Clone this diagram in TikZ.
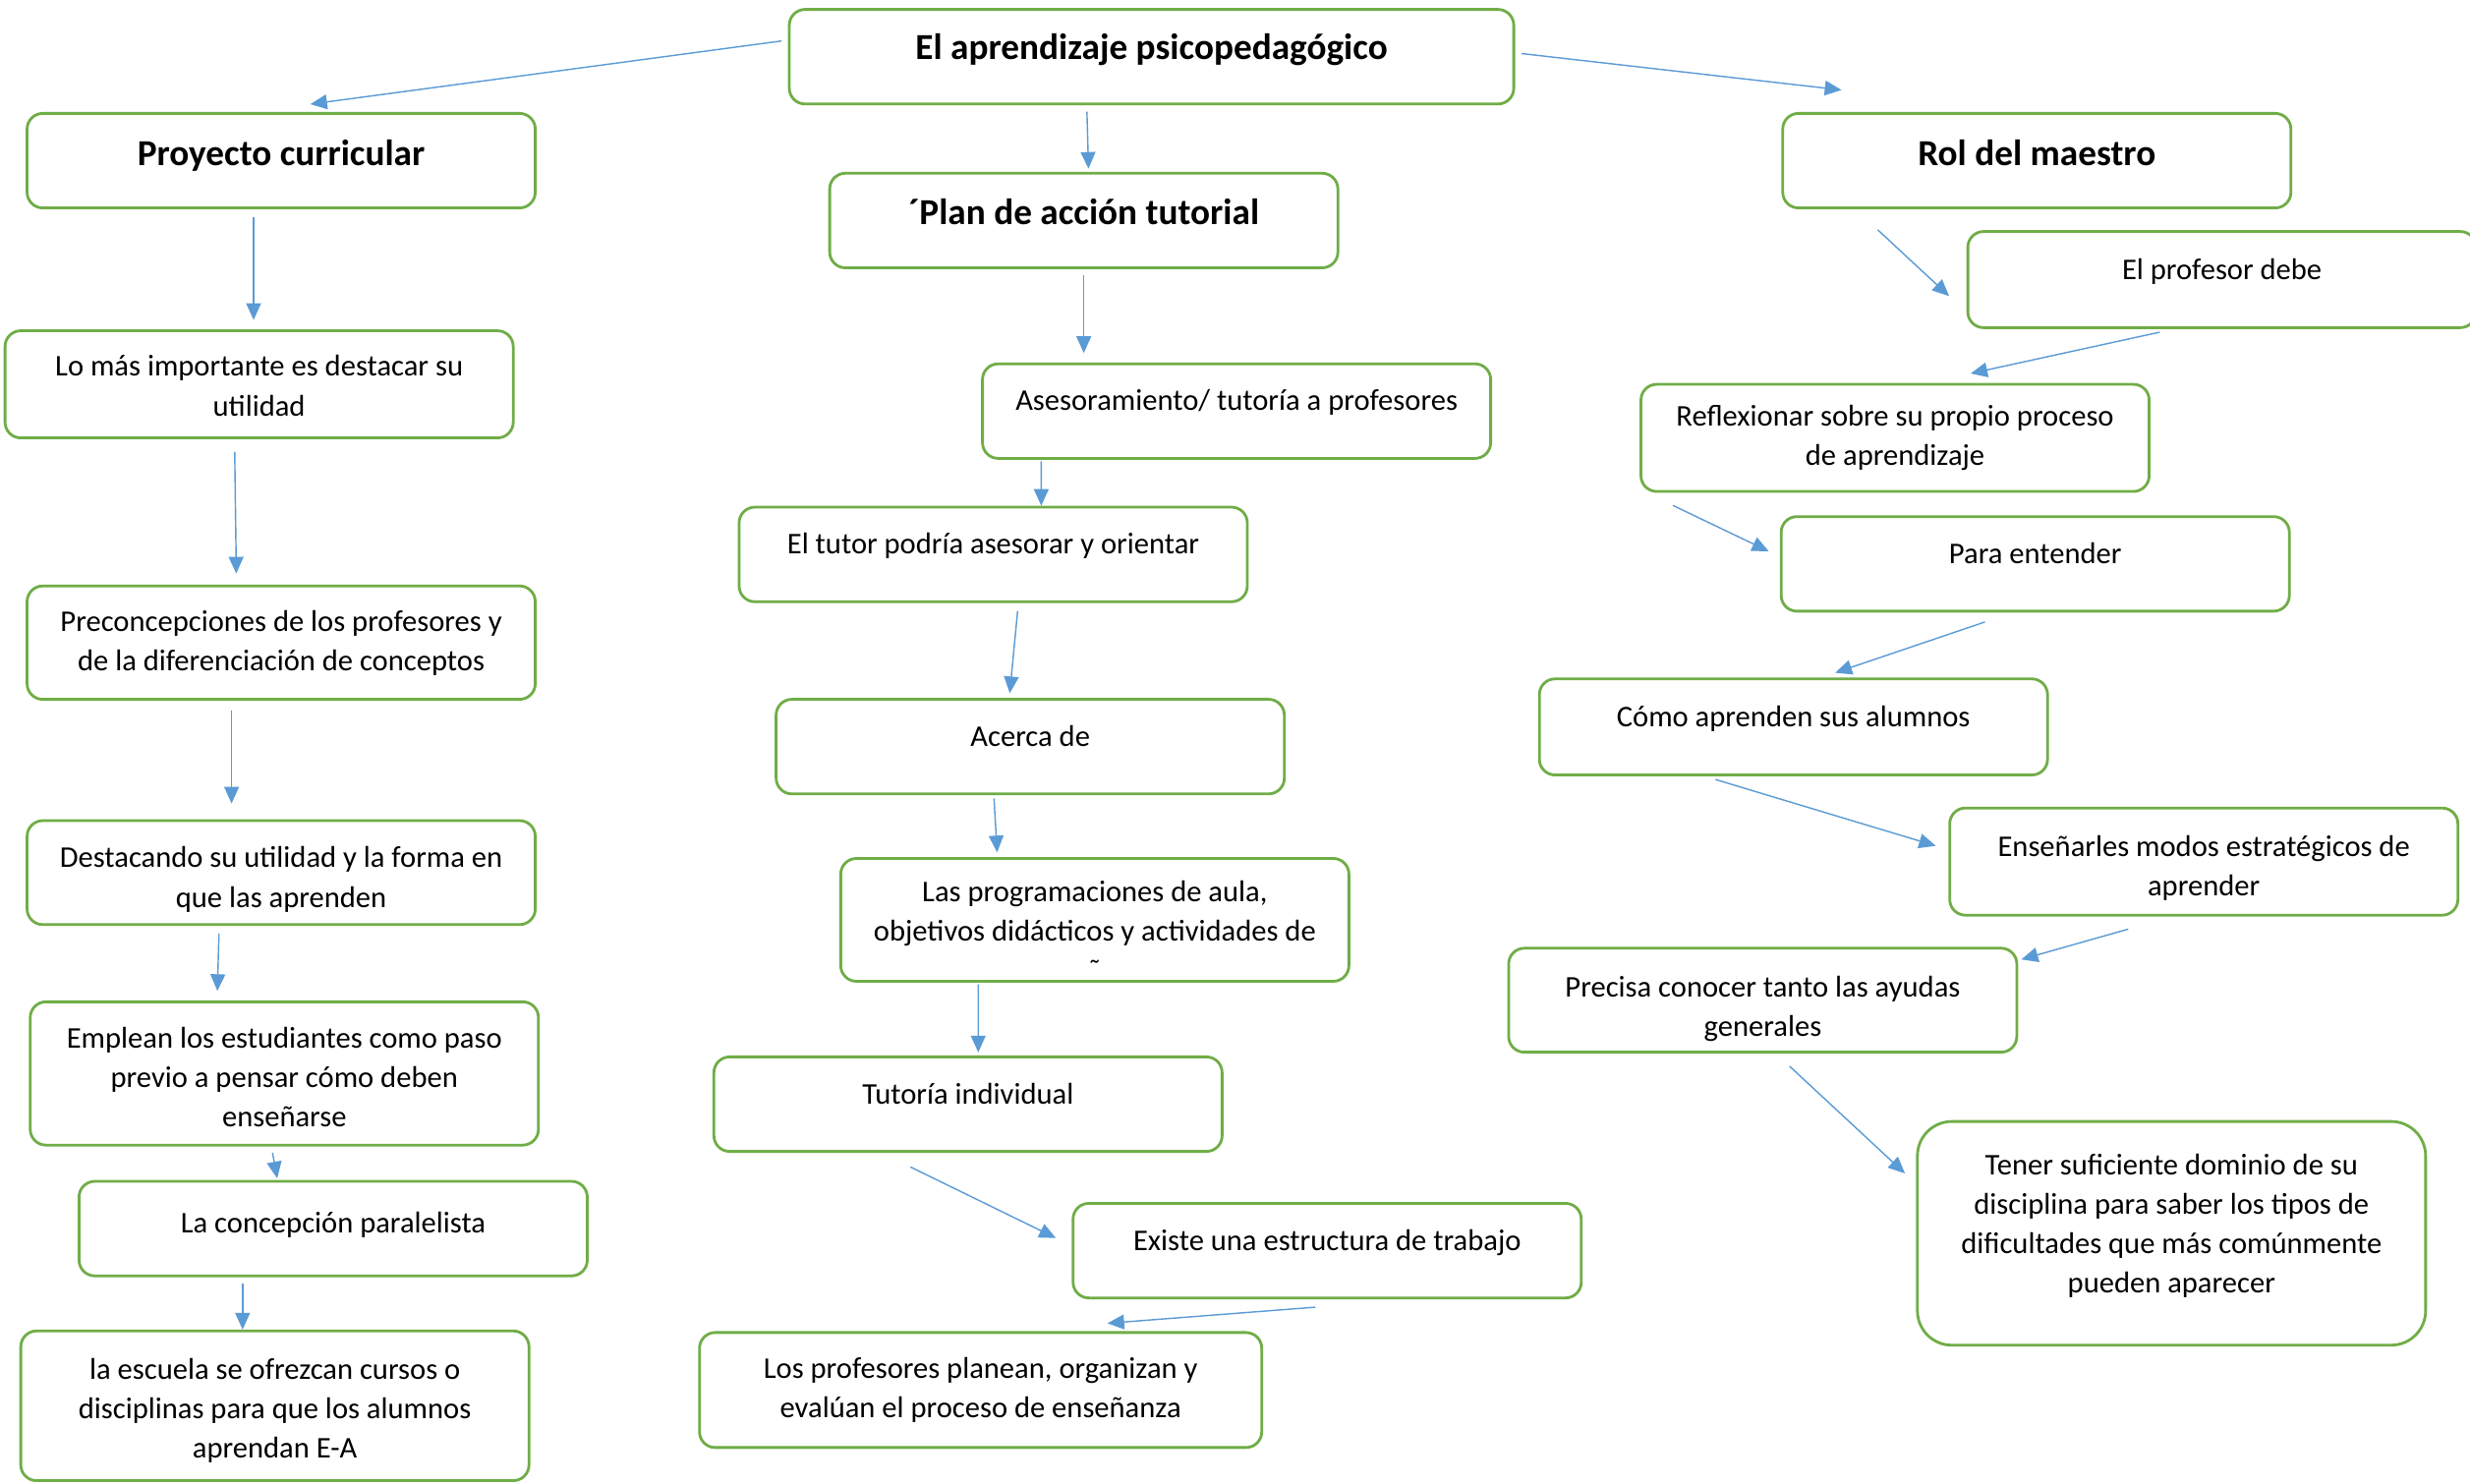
\documentclass[tikz,border=0pt]{standalone}
\usepackage{fontspec}
\setmainfont{Carlito}
\usepackage{tikz}
\usetikzlibrary{arrows.meta,calc}
\definecolor{boxgreen}{HTML}{70AD47}
\definecolor{linkblue}{HTML}{5B9BD5}

\begin{document}
\begin{tikzpicture}[x=0.16027mm, y=-0.16027mm,
concept/.style={rectangle, draw=boxgreen, line width=0.8pt, fill=white, rounded corners=1.6mm,
   align=center, inner sep=1pt, minimum width=51.7mm, minimum height=9.62mm,
   font=\fontsize{8.7}{11.4}\selectfont},
title/.style={concept, font=\fontsize{10.6}{13}\selectfont\bfseries, text height=7.7pt, text depth=4.8pt},
oneline/.style={text height=6.3pt, text depth=6.5pt},
lower/.style={text height=#1, text depth=0pt},
link/.style={draw=linkblue, line width=0.4pt, -{Triangle[length=1.7mm, width=1.5mm]}},
  %%every node/.style = {concept}
    ]
  \path[use as bounding box, fill=white] (0,0) rectangle (1568,942);

  % centre
  \node[title, minimum width=73.7mm, text depth=6.3pt] (top) at (731,36) {El aprendizaje psicopedagógico};

  % left column
  \node[title] (proj) at (178.5,102) {Proyecto curricular};
  \node[concept, minimum height=10.9mm, lower=18.2pt] (lomas) at (164.5,244) {Lo más importante es destacar su\\utilidad};
  \node[concept, minimum height=11.54mm] (precon) at (178.5,408) {Preconcepciones de los profesores y\\de la diferenciación de conceptos};
  \node[concept, minimum height=10.58mm, lower=20pt] (dest) at (178.5,554) {Destacando su utilidad y la forma en\\que las aprenden};
  \node[concept, minimum height=14.58mm, lower=31pt] (emp) at (180.5,681.5) {Emplean los estudiantes como paso\\previo a pensar cómo deben\\enseñarse};
  \node[concept, oneline, text depth=3.8pt] (conc) at (211.5,780) {La concepción paralelista};
  \node[concept, minimum height=15.23mm, lower=30pt] (esc) at (174.5,892.5) {la escuela se ofrezcan cursos o\\disciplinas para que los alumnos\\aprendan E-A};

  % middle column
  \node[title, text depth=5.4pt] (plan) at (688,140) {´Plan de acción tutorial};
  \node[concept, oneline] (asesor) at (785,261) {Asesoramiento/ tutoría a profesores};
  \node[concept, oneline] (tutor) at (630.5,352) {El tutor podría asesorar y orientar};
  \node[concept, oneline] (acerca) at (654,474) {Acerca de};
  \node[concept, minimum height=12.5mm, inner ysep=0pt, lower=35pt] (prog) at (695,584) {Las programaciones de aula,\\objetivos didácticos y actividades de\\˜};
  \node[concept, oneline] (tutind) at (614.5,701) {Tutoría individual};
  \node[concept, oneline] (existe) at (842.5,794) {Existe una estructura de trabajo};
  \node[concept, minimum width=57.2mm, minimum height=11.7mm] (lospro) at (622.5,882.5) {Los profesores planean, organizan y\\evalúan el proceso de enseñanza};

  % right column
  \node[title] (rol) at (1293,102) {Rol del maestro};
  \node[concept, oneline, minimum height=9.78mm] (profdebe) at (1410.5,177.5) {El profesor debe};
  \node[concept, minimum height=10.9mm] (refl) at (1203,278) {Reflexionar sobre su propio proceso\\de aprendizaje};
  \node[concept, oneline] (para) at (1292,358) {Para entender};
  \node[concept, oneline, minimum height=9.78mm] (como) at (1138.5,461.5) {Cómo aprenden sus alumnos};
  \node[concept, minimum height=10.9mm, lower=20pt] (ense) at (1399,547) {Enseñarles modos estratégicos de\\aprender};
  \node[concept, minimum height=10.58mm, lower=21pt] (precisa) at (1119,635) {Precisa conocer tanto las ayudas\\generales};
  \node[concept, minimum height=22.76mm, rounded corners=3.5mm, text depth=5.5pt] (tener) at (1378.5,783) {Tener suficiente dominio de su\\disciplina para saber los tipos de\\dificultades que más comúnmente\\pueden aparecer};

  % connectors
  \draw[link] ($(top.west)+(-4,-10)$) -- ($(proj.north)+(18.5,-5)$);
  \draw[link] ($(top.south)+(-41,4)$) -- ($(plan.north)+(3,-2)$);
  \draw[link] ($(top.east)+(4,-2)$) -- ($(rol.north)+(-124,-14)$);

  \draw[link] ($(proj.south)+(-17.5,5)$) -- ($(lomas.north)+(-3.5,-6)$);
  \draw[link] ($(lomas.south)+(-15.5,8)$) -- ($(precon.north)+(-28.5,-7)$);
  \draw[link] ($(precon.south)+(-31.5,6)$) -- ($(dest.north)+(-31.5,-10)$);
  \draw[link] ($(dest.south)+(-39.5,5)$) -- ($(emp.north)+(-42.5,-6)$);
  \draw[link] ($(emp.south)+(-7.5,4)$) -- ($(conc.north)+(-35.5,-1)$);
  \draw[link] ($(conc.south)+(-57.5,4)$) -- ($(esc.north)+(-20.5,0)$);

  \draw[link] ($(plan.south)+(0,4)$) -- ($(asesor.north)+(-97,-6)$);
  \draw[link] ($(asesor.south)+(-124,1)$) -- ($(tutor.north)+(30.5,0)$);
  \draw[link] ($(tutor.south)+(15.5,5)$) -- ($(acerca.north)+(-13,-3)$);
  \draw[link] ($(acerca.south)+(-23,2)$) -- ($(prog.north)+(-62,-3)$);
  \draw[link] ($(prog.south)+(-74,1)$) -- ($(tutind.north)+(6.5,-2)$);
  \draw[link] ($(tutind.south)+(-36.5,9)$) -- ($(existe.west)+(-10,-8)$);
  \draw[link] ($(existe.south)+(-7.5,5)$) -- ($(lospro.north)+(80.5,-5)$);

  \draw[link] ($(rol.south)+(-101,13)$) -- ($(profdebe.west)+(-11,10.5)$);
  \draw[link] ($(profdebe.south)+(-39.5,2)$) -- ($(refl.north)+(48,-6)$);
  \draw[link] ($(refl.south)+(-141,8)$) -- ($(para.west)+(-7,-8)$);
  \draw[link] ($(para.south)+(-32,6)$) -- ($(como.north)+(26.5,-3)$);
  \draw[link] ($(como.south)+(-49.5,2)$) -- ($(ense.west)+(-8,-10)$);
  \draw[link] ($(ense.south)+(-48,8)$) -- ($(precisa.north east)+(2,8)$);
  \draw[link] ($(precisa.south)+(17,8)$) -- ($(tener.west)+(-7,-38)$);
\end{tikzpicture}
\end{document}
